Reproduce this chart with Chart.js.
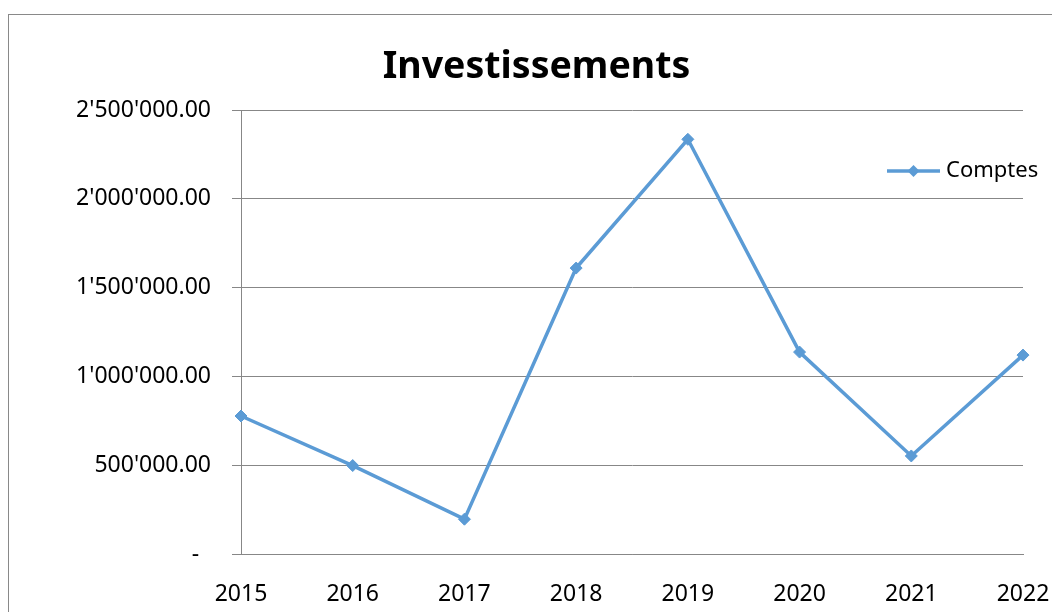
<!DOCTYPE html>
<html>
<head>
<meta charset="utf-8">
<script src="https://cdn.jsdelivr.net/npm/chart.js@4"></script>
<style>
  html, body { margin: 0; padding: 0; background: #fff; }
  #wrap { width: 1052px; height: 612px; }
</style>
</head>
<body>
<div id="wrap"><canvas id="chart" width="1052" height="612"></canvas></div>
<script>
const titleText = "Investissements";
const seriesName = "Comptes";
const years = ["2015", "2016", "2017", "2018", "2019", "2020", "2021", "2022"];
const comptes = [777000, 498000, 196000, 1610000, 2335000, 1137000, 552000, 1120000];
const yTicks = [0, 500000, 1000000, 1500000, 2000000, 2500000];

const lineColor = "#5B9BD5";
const gridColor = "#878787";
const font = "'Noto Sans', 'DejaVu Sans', sans-serif";

function fmt(v) {
    if (v === 0) return "-  ";
    let parts = v.toFixed(2).split(".");
    return parts[0].replace(/\B(?=(\d{3})+(?!\d))/g, "'") + "." + parts[1];
}

// frame, title and legend drawn around the chart
const decor = {
    id: "decor",
    beforeDraw(chart) {
        const ctx = chart.ctx;
        ctx.save();
        ctx.fillStyle = "#fff";
        ctx.fillRect(0, 0, chart.width, chart.height);
        ctx.strokeStyle = "#898989";
        ctx.lineWidth = 1;
        ctx.strokeRect(8.5, 14.5, 1200, 800);
        ctx.restore();
    },
    afterDraw(chart) {
        const ctx = chart.ctx;
        ctx.save();
        ctx.fillStyle = "#000";
        ctx.font = "bold 37.5px " + font;
        ctx.textAlign = "center";
        ctx.textBaseline = "alphabetic";
        ctx.fillText(titleText, 536.5, 77.5);

        // legend
        let ds = chart.data.datasets[0];
        ctx.strokeStyle = ds.borderColor;
        ctx.lineWidth = 3.5;
        ctx.beginPath();
        ctx.moveTo(887, 171);
        ctx.lineTo(940, 171);
        ctx.stroke();
        ctx.fillStyle = ds.borderColor;
        ctx.beginPath();
        ctx.moveTo(913.5, 165);
        ctx.lineTo(919.5, 171);
        ctx.lineTo(913.5, 177);
        ctx.lineTo(907.5, 171);
        ctx.closePath();
        ctx.fill();
        ctx.fillStyle = "#000";
        ctx.font = "22px " + font;
        ctx.textAlign = "left";
        ctx.fillText(ds.label, 946, 177);
        ctx.restore();
    }
};

new Chart(document.getElementById("chart").getContext("2d"), {
    type: "line",
    data: {
        labels: years,
        datasets: [{
            label: seriesName,
            data: comptes,
            borderColor: lineColor,
            backgroundColor: lineColor,
            borderWidth: 3.5,
            pointStyle: "rectRot",
            pointRadius: 6,
            pointBorderWidth: 1,
            pointBackgroundColor: lineColor,
            pointBorderColor: lineColor,
            tension: 0,
            fill: false
        }]
    },
    options: {
        responsive: false,
        animation: false,
        layout: { padding: { top: 110, left: 0, right: 0, bottom: 0 } },
        plugins: {
            legend: { display: false },
            title: { display: false },
            tooltip: { enabled: false }
        },
        scales: {
            x: {
                offset: false,
                grid: { display: false },
                border: { display: true, color: gridColor, width: 1 },
                ticks: { color: "#000", font: { family: font, size: 23 }, padding: 19, maxRotation: 0 },
                afterFit(scale) {
                    scale.height = 58;
                    scale.paddingRight = 29;
                }
            },
            y: {
                min: 0,
                max: 2500000,
                afterBuildTicks(scale) { scale.ticks = yTicks.map(v => ({ value: v })); },
                grid: { color: gridColor, lineWidth: 1, drawTicks: true, tickLength: 9, tickColor: gridColor },
                border: { display: true, color: gridColor, width: 1 },
                ticks: {
                    color: "#000",
                    font: { family: font, size: 23 },
                    padding: 21,
                    callback: v => fmt(v)
                },
                afterFit(scale) { scale.width = 241; }
            }
        }
    },
    plugins: [decor]
});
</script>
</body>
</html>
